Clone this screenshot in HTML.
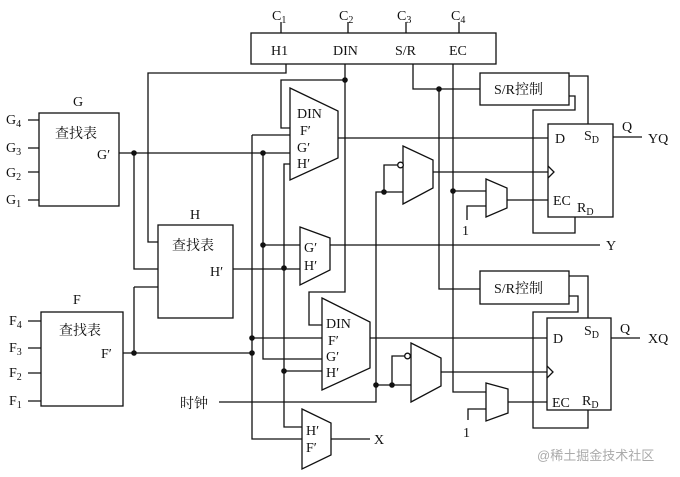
<!DOCTYPE html>
<html><head><meta charset="utf-8"><style>
html,body{margin:0;padding:0;background:#fff;}
svg{display:block;}
text{font-family:"Liberation Serif","Noto Serif CJK SC",serif;font-size:14px;fill:#111;}
.cj{font-family:"Liberation Serif","Noto Serif CJK SC",serif;font-size:14px;}
</style></head><body>
<svg width="680" height="477" viewBox="0 0 680 477" xmlns="http://www.w3.org/2000/svg">
<g fill="none" stroke="#111" stroke-width="1.3">
<!-- top box -->
<rect x="251" y="33" width="245" height="31"/>
<path d="M281 22V33M348 22V33M406 22V33M459 22V33"/>
<!-- G box -->
<rect x="39" y="113" width="80" height="93"/>
<path d="M28 120H39M28 148H39M28 172H39M28 200H39"/>
<!-- F box -->
<rect x="41" y="312" width="82" height="94"/>
<path d="M28 321H41M28 348H41M28 373H41M28 401H41"/>
<!-- H box -->
<rect x="158" y="225" width="75" height="93"/>
<!-- H1 wire -->
<path d="M286 64V73H148V242H158"/>
<!-- G' line -->
<path d="M119 153H290"/>
<path d="M134 153V269H158"/>
<path d="M134 287H158M134 287V353"/>
<path d="M123 353H252"/>
<!-- vertical A -->
<path d="M252 135H290M252 135V439H302"/>
<path d="M252 338H322"/>
<!-- vertical B -->
<path d="M263 153V359H322M263 245H300"/>
<!-- vertical C -->
<path d="M290 164H284V427H302"/>
<path d="M233 269H300M284 371H322"/>
<!-- DIN -->
<path d="M345 64V292H309V325H322"/>
<path d="M345 80H281V128H290"/>
<!-- mux1 -->
<path d="M290 88L338 111V158L290 180Z"/>
<path d="M338 138H548"/>
<!-- mux G'H' -->
<path d="M300 227L330 238V270L300 285Z"/>
<path d="M330 245H600"/>
<!-- mux2 -->
<path d="M322 298L370 322V368L322 390Z"/>
<path d="M370 338H547"/>
<!-- X mux -->
<path d="M302 409L331 423V455L302 469Z"/>
<path d="M331 439H370"/>
<!-- clock -->
<path d="M219 402H376V192H403M384 192V165H398"/>
<path d="M376 385H411M392 385V356H405"/>
<!-- inv mux1 -->
<path d="M403 146L433 160V188L403 204Z"/>
<path d="M433 172H548"/>
<circle cx="400.5" cy="165" r="2.8" fill="#fff"/>
<!-- inv mux2 -->
<path d="M411 343L441 358V386L411 402Z"/>
<path d="M441 372H547"/>
<circle cx="407.5" cy="356" r="2.8" fill="#fff"/>
<!-- S/R -->
<path d="M413 64V89H480"/>
<path d="M439 89V289H480"/>
<rect x="480" y="73" width="89" height="32"/>
<rect x="480" y="271" width="89" height="33"/>
<!-- EC -->
<path d="M453 64V392H486M453 191H486"/>
<!-- and gates -->
<path d="M486 179L507 188V208L486 217Z"/>
<path d="M467 220V206H486M507 200H548"/>
<path d="M486 383L508 389V413L486 421Z"/>
<path d="M468 420V409H486M508 402H547"/>
<!-- FF upper -->
<rect x="548" y="124" width="65" height="93"/>
<path d="M548 166L554 172L548 178"/>
<path d="M569 76H588V124M569 96H575V110H533V233H575V217"/>
<path d="M613 137H642"/>
<!-- FF lower -->
<rect x="547" y="318" width="64" height="92"/>
<path d="M547 366L553 372L547 378"/>
<path d="M569 276H588V318M569 296H578V312H533V428H588V410"/>
<path d="M611 338H640"/>
</g>
<g fill="#111">
<circle cx="134" cy="153" r="2.8"/><circle cx="263" cy="153" r="2.8"/>
<circle cx="134" cy="353" r="2.8"/><circle cx="252" cy="353" r="2.8"/><circle cx="252" cy="338" r="2.8"/>
<circle cx="263" cy="245" r="2.8"/><circle cx="284" cy="268" r="2.8"/><circle cx="284" cy="371" r="2.8"/>
<circle cx="345" cy="80" r="2.8"/><circle cx="384" cy="192" r="2.8"/>
<circle cx="376" cy="385" r="2.8"/><circle cx="392" cy="385" r="2.8"/>
<circle cx="439" cy="89" r="2.8"/><circle cx="453" cy="191" r="2.8"/>
</g>
<!-- labels -->
<text x="272" y="20">C<tspan font-size="10" dy="3">1</tspan></text>
<text x="339" y="20">C<tspan font-size="10" dy="3">2</tspan></text>
<text x="397" y="20">C<tspan font-size="10" dy="3">3</tspan></text>
<text x="451" y="20">C<tspan font-size="10" dy="3">4</tspan></text>
<text x="271" y="55">H1</text><text x="333" y="55">DIN</text><text x="395" y="55">S/R</text><text x="449" y="55">EC</text>
<text x="73" y="106">G</text><text x="190" y="219">H</text><text x="73" y="304">F</text>
<text x="55" y="138" class="cj">查找表</text><text x="172" y="250" class="cj">查找表</text><text x="59" y="335" class="cj">查找表</text>
<text x="97" y="159">G′</text><text x="210" y="276">H′</text><text x="101" y="358">F′</text>
<text x="6" y="124">G<tspan font-size="10" dy="3">4</tspan></text>
<text x="6" y="152">G<tspan font-size="10" dy="3">3</tspan></text>
<text x="6" y="177">G<tspan font-size="10" dy="3">2</tspan></text>
<text x="6" y="204">G<tspan font-size="10" dy="3">1</tspan></text>
<text x="9" y="325">F<tspan font-size="10" dy="3">4</tspan></text>
<text x="9" y="352">F<tspan font-size="10" dy="3">3</tspan></text>
<text x="9" y="377">F<tspan font-size="10" dy="3">2</tspan></text>
<text x="9" y="405">F<tspan font-size="10" dy="3">1</tspan></text>
<text x="180" y="408" class="cj">时钟</text>
<text x="297" y="118">DIN</text><text x="300" y="135">F′</text><text x="297" y="152">G′</text><text x="297" y="168">H′</text>
<text x="304" y="252">G′</text><text x="304" y="270">H′</text>
<text x="326" y="328">DIN</text><text x="328" y="345">F′</text><text x="326" y="361">G′</text><text x="326" y="377">H′</text>
<text x="306" y="435">H′</text><text x="306" y="452">F′</text>
<text x="374" y="444">X</text><text x="606" y="250">Y</text>
<text x="494" y="94" class="cj">S/R控制</text><text x="494" y="293" class="cj">S/R控制</text>
<text x="555" y="143">D</text><text x="584" y="140">S<tspan font-size="10" dy="3">D</tspan></text>
<text x="553" y="205">EC</text><text x="577" y="212">R<tspan font-size="10" dy="3">D</tspan></text>
<text x="622" y="131">Q</text><text x="648" y="143">YQ</text>
<text x="553" y="343">D</text><text x="584" y="335">S<tspan font-size="10" dy="3">D</tspan></text>
<text x="552" y="407">EC</text><text x="582" y="405">R<tspan font-size="10" dy="3">D</tspan></text>
<text x="620" y="333">Q</text><text x="648" y="343">XQ</text>
<text x="462" y="235">1</text><text x="463" y="437">1</text>
<text x="537" y="460" style="font-family:'Liberation Sans','Noto Sans CJK SC',sans-serif;font-size:13px;fill:#aaa">@稀土掘金技术社区</text>
</svg>
</body></html>
